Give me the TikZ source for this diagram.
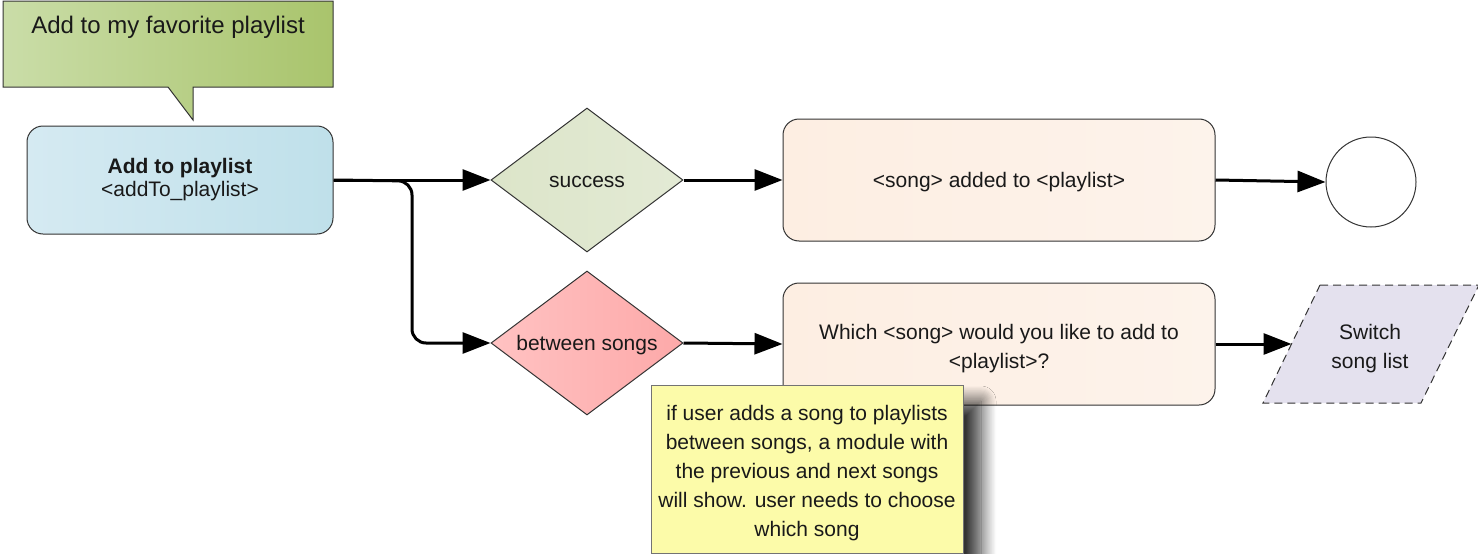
\documentclass[tikz,border=0pt]{standalone}
\usepackage{fontspec}
\setmainfont{Liberation Sans}
\usetikzlibrary{shapes.geometric,arrows.meta,shadows.blur,calc}
\definecolor{calloutL}{HTML}{CADDA8}
\definecolor{calloutR}{HTML}{A9C46C}
\definecolor{blueL}{HTML}{D5EAF2}
\definecolor{blueR}{HTML}{BFE0EA}
\definecolor{succL}{HTML}{DCE5C9}
\definecolor{succR}{HTML}{E3EAD5}
\definecolor{betwL}{HTML}{FFC2C2}
\definecolor{betwR}{HTML}{FDA9A9}
\definecolor{peachL}{HTML}{FDEEE2}
\definecolor{peachR}{HTML}{FDF3EB}
\definecolor{noteY}{HTML}{FCFBA9}
\definecolor{lav}{HTML}{E4E1EE}
\definecolor{edge}{HTML}{333333}
\tikzset{
  every node/.style={font=\fontsize{21}{29}\selectfont, text=black!90},
  txt/.style={align=center, inner sep=0pt},
  rbox/.style={draw=edge, line width=1pt, rounded corners=16pt, inner sep=0pt},
  dia/.style={diamond, draw=edge, line width=1pt, aspect=1.333, inner sep=0pt, minimum width=192pt, minimum height=144pt},
  conn/.style={line width=3pt, -{Triangle[length=28pt,width=21pt]}},
  notebox/.style={draw=black!55, line width=1pt, fill=noteY, minimum width=312pt, minimum height=168pt, inner sep=0pt,
     blur shadow={shadow xshift=18pt, shadow yshift=-16pt, shadow blur steps=14, shadow blur radius=15pt, shadow opacity=80}},
  para/.style={draw=edge, line width=1pt, dash pattern=on 8pt off 5pt, fill=lav},
}
\begin{document}
\begin{tikzpicture}[x=1pt,y=-1pt]
\useasboundingbox (0,0) rectangle (1478,554);
% callout
\shade[left color=calloutL, right color=calloutR, draw=edge, line width=1pt]
  (3,1) -- (333,1) -- (333,87) -- (193,87) -- (193,120) -- (168,87) -- (3,87) -- cycle;
\node[txt, font=\fontsize{24}{29}\selectfont] (fav) at (168,27) {Add to my favorite playlist};
% start box
\node[rbox, left color=blueL, right color=blueR, minimum width=306pt, minimum height=108pt] (add) at (180,180) {};
\node[txt, font=\fontsize{21}{23}\selectfont] (addtxt) at (180,180) {\textbf{Add to playlist}\\<addTo\_playlist>};
% diamonds
\node[dia, left color=succL, right color=succR] (succ) at (587,180) {};
\node[txt] (succtxt) at (587,182) {success};
\node[dia, left color=betwL, right color=betwR] (betw) at (587,343) {};
\node[txt] (betwtxt) at (587,345) {between songs};
% message boxes
\node[rbox, left color=peachL, right color=peachR, minimum width=432pt, minimum height=122pt] (added) at (999,180) {};
\node[txt] (addedtxt) at (999,182) {<song> added to <playlist>};
\node[rbox, left color=peachL, right color=peachR, minimum width=432pt, minimum height=122pt] (which) at (999,344) {};
\node[txt] (whichtxt) at (999,349) {Which <song> would you like to add to\\<playlist>?};
% end circle
\node[circle, draw=edge, line width=1pt, fill=white, minimum size=90pt, inner sep=0pt] (end) at (1371,182) {};
% parallelogram
\coordinate (swTL) at (1320,285);
\coordinate (swTR) at (1479,285);
\coordinate (swBR) at (1421,403);
\coordinate (swBL) at (1263,403);
\path[para] (swTL) -- (swTR) -- (swBR) -- (swBL) -- cycle;
\node[txt] (swtxt) at (1370,349) {Switch\\song list};
\coordinate (swin) at ($(swBL)!0.5!(swTL)$);
% note
\node[notebox] (note) at (807,469) {};
\node[txt] (notetxt) at (807,473)
  {if user adds a song to playlists\\between songs, a module with\\the previous and next songs\\will show. user needs to choose\\which song};
% connectors
\coordinate (br) at (412,181);
\draw[conn] (add.east) -- (succ.west);
\draw[conn, rounded corners=14pt] (add.east) -- (br) -- (br |- betw.west) -- (betw.west);
\draw[conn] (succ.east) -- (added.west);
\draw[conn] (added.east) -- (end.west);
\draw[conn] (betw.east) -- (which.west);
\draw[conn] (which.east) -- (which.east -| swin);
\end{tikzpicture}
\end{document}
